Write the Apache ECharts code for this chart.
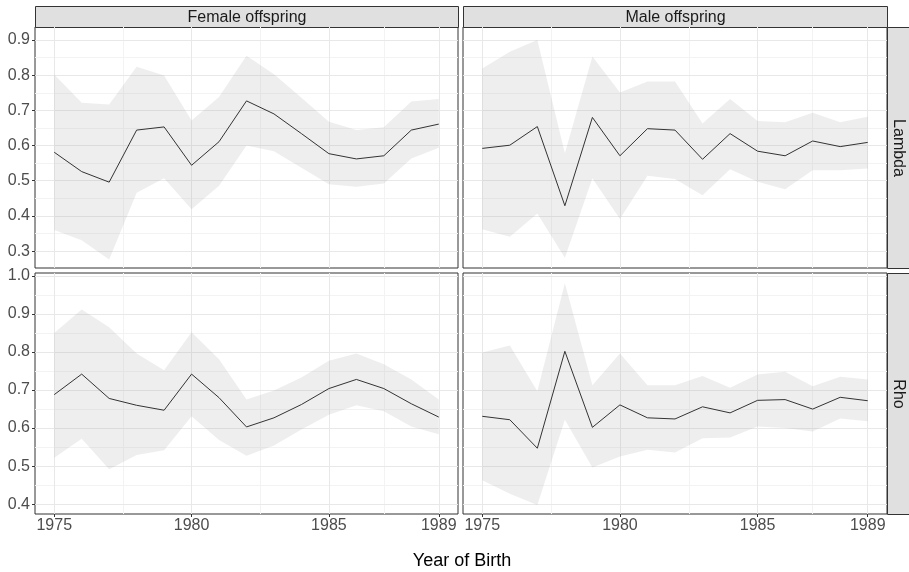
<!DOCTYPE html>
<html>
<head>
<meta charset="utf-8">
<script src="https://cdn.jsdelivr.net/npm/echarts@6/dist/echarts.min.js"></script>
<style>
  html, body { margin: 0; padding: 0; background: #fff; }
  #chart { width: 909px; height: 572px; }
</style>
</head>
<body>
<div id="chart"></div>
<script>
const years = [1975, 1976, 1977, 1978, 1979, 1980, 1981, 1982, 1983, 1984, 1985, 1986, 1987, 1988, 1989]

// Female offspring, Lambda
const femLambda = [0.581, 0.526, 0.496, 0.644, 0.653, 0.544, 0.611, 0.727, 0.690, 0.634, 0.577, 0.562, 0.571, 0.644, 0.661]
const femLambdaUp = [0.802, 0.722, 0.717, 0.824, 0.799, 0.671, 0.738, 0.855, 0.803, 0.736, 0.668, 0.644, 0.652, 0.725, 0.732]
const femLambdaLo = [0.360, 0.331, 0.276, 0.466, 0.507, 0.419, 0.486, 0.600, 0.584, 0.537, 0.490, 0.483, 0.492, 0.563, 0.594]

// Male offspring, Lambda
const maleLambda = [0.592, 0.601, 0.654, 0.429, 0.680, 0.571, 0.648, 0.644, 0.561, 0.634, 0.584, 0.571, 0.613, 0.597, 0.609]
const maleLambdaUp = [0.819, 0.867, 0.900, 0.578, 0.853, 0.751, 0.782, 0.782, 0.663, 0.732, 0.670, 0.666, 0.693, 0.666, 0.682]
const maleLambdaLo = [0.362, 0.341, 0.407, 0.281, 0.507, 0.391, 0.514, 0.505, 0.459, 0.533, 0.497, 0.476, 0.530, 0.530, 0.535]

// Female offspring, Rho
const femRho = [0.688, 0.742, 0.678, 0.660, 0.647, 0.742, 0.680, 0.603, 0.627, 0.662, 0.704, 0.728, 0.704, 0.664, 0.629]
const femRhoUp = [0.850, 0.912, 0.865, 0.796, 0.752, 0.852, 0.781, 0.675, 0.699, 0.733, 0.777, 0.796, 0.768, 0.728, 0.675]
const femRhoLo = [0.522, 0.572, 0.492, 0.529, 0.542, 0.631, 0.569, 0.527, 0.554, 0.596, 0.635, 0.660, 0.644, 0.604, 0.584]

// Male offspring, Rho
const maleRho = [0.631, 0.622, 0.547, 0.802, 0.602, 0.661, 0.627, 0.624, 0.656, 0.640, 0.673, 0.675, 0.650, 0.681, 0.672]
const maleRhoUp = [0.799, 0.817, 0.697, 0.981, 0.713, 0.796, 0.713, 0.713, 0.737, 0.706, 0.741, 0.748, 0.710, 0.735, 0.728]
const maleRhoLo = [0.463, 0.427, 0.398, 0.622, 0.496, 0.525, 0.543, 0.536, 0.573, 0.575, 0.604, 0.600, 0.591, 0.625, 0.618]

// tick labels and grid breaks
const xMajor = [1975, 1980, 1985, 1989]
const xMinor = [1977.5, 1982.5, 1987]
const lambdaMajor = [0.3, 0.4, 0.5, 0.6, 0.7, 0.8, 0.9]
const lambdaMinor = [0.35, 0.45, 0.55, 0.65, 0.75, 0.85]
const rhoMajor = [0.4, 0.5, 0.6, 0.7, 0.8, 0.9, 1.0]
const rhoMinor = [0.45, 0.55, 0.65, 0.75, 0.85, 0.95]

const colLabels = ['Female offspring', 'Male offspring']
const rowLabels = ['Lambda', 'Rho']

const xRange = [1974.3, 1989.7]
const lambdaRange = [0.252, 0.937]
const rhoRange = [0.374, 1.008]

const FONT = 'Liberation Sans, Arial, sans-serif'

// panel layout
const colLeft = [35, 463]
const colWidth = [423, 424]
const rowTop = [27, 273]
const rowHeight = 241

const panels = [
  { row: 0, col: 0, mid: femLambda, up: femLambdaUp, lo: femLambdaLo },
  { row: 0, col: 1, mid: maleLambda, up: maleLambdaUp, lo: maleLambdaLo },
  { row: 1, col: 0, mid: femRho, up: femRhoUp, lo: femRhoLo },
  { row: 1, col: 1, mid: maleRho, up: maleRhoUp, lo: maleRhoLo }
]

const grid = []
const xAxis = []
const yAxis = []
const series = []
const graphic = []

panels.forEach((p, i) => {
  const yMajor = p.row === 0 ? lambdaMajor : rhoMajor
  const yMinor = p.row === 0 ? lambdaMinor : rhoMinor
  const yRange = p.row === 0 ? lambdaRange : rhoRange
  grid.push({
    left: colLeft[p.col],
    top: rowTop[p.row],
    width: colWidth[p.col],
    height: rowHeight,
    show: true,
    backgroundColor: '#fff',
    borderColor: '#333333',
    borderWidth: 1,
    z: 0
  })
  xAxis.push({
    type: 'value',
    gridIndex: i,
    min: xRange[0],
    max: xRange[1],
    axisLine: { show: false },
    splitLine: { show: false },
    axisTick: {
      show: p.row === 1,
      customValues: xMajor,
      length: 3,
      lineStyle: { color: '#333333' }
    },
    axisLabel: {
      show: p.row === 1,
      customValues: xMajor,
      margin: 4,
      color: '#4d4d4d',
      fontSize: 16,
      fontFamily: FONT,
      formatter: v => String(v)
    }
  })
  yAxis.push({
    type: 'value',
    gridIndex: i,
    min: yRange[0],
    max: yRange[1],
    axisLine: { show: false },
    splitLine: { show: false },
    axisTick: {
      show: p.col === 0,
      customValues: yMajor,
      length: 3,
      lineStyle: { color: '#333333' }
    },
    axisLabel: {
      show: p.col === 0,
      customValues: yMajor,
      margin: 5,
      color: '#4d4d4d',
      fontSize: 16,
      fontFamily: FONT,
      formatter: v => v.toFixed(1)
    }
  })

  // grid lines
  const minorStyle = { color: '#f3f3f3', width: 1, type: 'solid' }
  const majorStyle = { color: '#e8e8e8', width: 1, type: 'solid' }
  const lines = []
  xMinor.forEach(v => lines.push({ xAxis: v, lineStyle: minorStyle }))
  yMinor.forEach(v => lines.push({ yAxis: v, lineStyle: minorStyle }))
  xMajor.forEach(v => lines.push({ xAxis: v, lineStyle: majorStyle }))
  yMajor.forEach(v => lines.push({ yAxis: v, lineStyle: majorStyle }))
  series.push({
    type: 'line',
    xAxisIndex: i,
    yAxisIndex: i,
    data: [],
    z: 1,
    markLine: {
      z: 1,
      silent: true,
      symbol: ['none', 'none'],
      label: { show: false },
      lineStyle: { type: 'solid', color: '#e8e8e8', width: 1 },
      emphasis: { disabled: true },
      animation: false,
      data: lines
    }
  })

  // ribbon
  series.push({
    type: 'custom',
    xAxisIndex: i,
    yAxisIndex: i,
    z: 2,
    silent: true,
    animation: false,
    data: years.map((y, k) => [y, p.lo[k], p.up[k]]),
    encode: { x: 0, y: [1, 2] },
    renderItem: (params, api) => {
      if (params.dataIndex !== 0) return null
      const pts = []
      years.forEach((y, k) => pts.push(api.coord([y, p.up[k]])))
      for (let k = years.length - 1; k >= 0; k--) pts.push(api.coord([years[k], p.lo[k]]))
      return {
        type: 'polygon',
        shape: { points: pts },
        style: { fill: 'rgba(153,153,153,0.17)', stroke: null }
      }
    }
  })

  // estimate line
  series.push({
    type: 'line',
    xAxisIndex: i,
    yAxisIndex: i,
    z: 3,
    data: years.map((y, k) => [y, p.mid[k]]),
    showSymbol: false,
    animation: false,
    lineStyle: { color: '#333333', width: 1, type: 'solid' }
  })
})

// strips
colLabels.forEach((t, c) => {
  graphic.push({
    type: 'group',
    left: colLeft[c],
    top: 6,
    children: [
      {
        type: 'rect',
        shape: { x: 0, y: 0, width: colWidth[c], height: 21 },
        style: { fill: '#e0e0e0', stroke: '#333333', lineWidth: 1 }
      },
      {
        type: 'text',
        x: colWidth[c] / 2,
        y: 11,
        style: { text: t, fill: '#1a1a1a', font: '16px ' + FONT, textAlign: 'center', textVerticalAlign: 'middle' }
      }
    ]
  })
})
rowLabels.forEach((t, r) => {
  graphic.push({
    type: 'group',
    left: 887,
    top: rowTop[r],
    children: [
      {
        type: 'rect',
        shape: { x: 0, y: 0, width: 22, height: rowHeight },
        style: { fill: '#e0e0e0', stroke: '#333333', lineWidth: 1 }
      },
      {
        type: 'text',
        x: 11,
        y: rowHeight / 2,
        rotation: -Math.PI / 2,
        style: { text: t, fill: '#1a1a1a', font: '16px ' + FONT, textAlign: 'center', textVerticalAlign: 'middle' }
      }
    ]
  })
})
graphic.push({
  type: 'text',
  x: 462,
  y: 561,
  style: { text: 'Year of Birth', fill: '#000', font: '18px ' + FONT, textAlign: 'center', textVerticalAlign: 'middle' }
})

const chart = echarts.init(document.getElementById('chart'), null, { renderer: 'canvas' })
chart.setOption({
  animation: false,
  backgroundColor: '#fff',
  grid,
  xAxis,
  yAxis,
  series,
  graphic
})
</script>
</body>
</html>
